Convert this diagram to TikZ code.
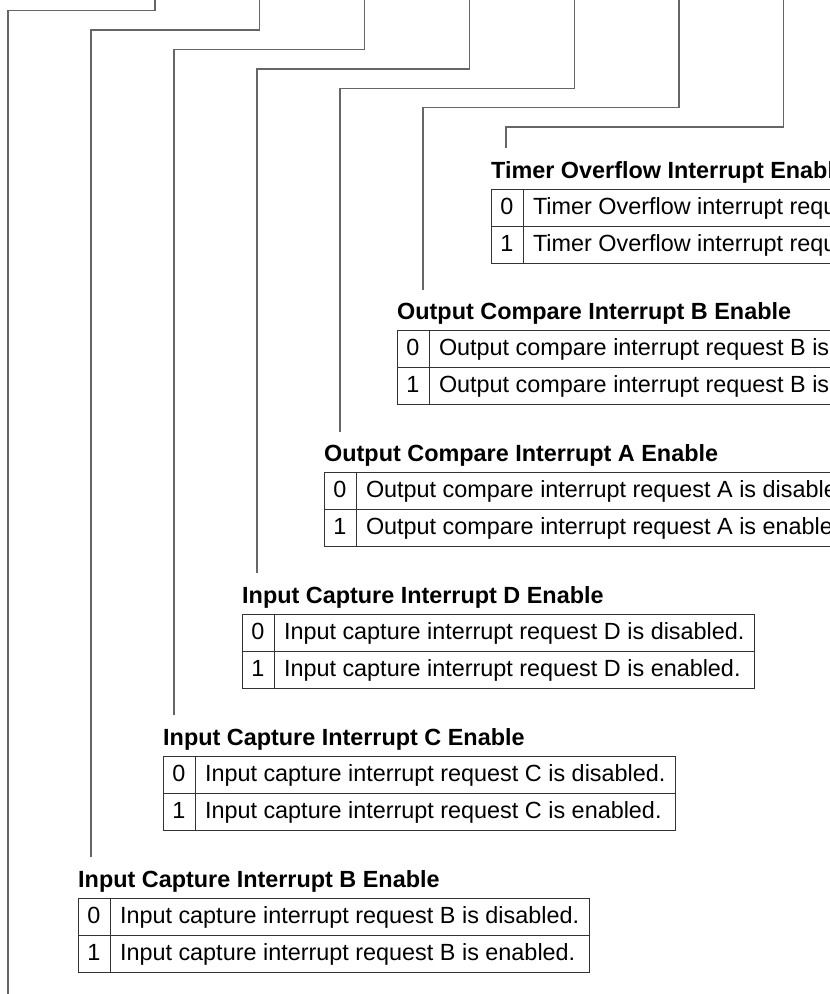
\documentclass[tikz,border=0pt]{standalone}
\usepackage{fontspec}
\setmainfont{Liberation Sans}
\usetikzlibrary{positioning}

\newcommand\regfont{\fontsize{23.4}{28}\selectfont}

\tikzset{
  lead/.style={draw=black!60, line width=1.3pt},
  frame/.style={draw=black!80, line width=1pt},
  regtitle/.style={anchor=base west, inner sep=0pt, font=\bfseries\regfont},
  bitcell/.style={frame, outer sep=0pt, inner sep=0pt,
    minimum width=32pt, minimum height=37pt, text height=17pt, text depth=4pt, font=\regfont},
  desccell/.style={outer sep=0pt, inner xsep=10pt, inner ysep=0pt,
    minimum height=37pt, text height=17pt, text depth=4pt, font=\regfont}
}

\begin{document}
\begin{tikzpicture}[x=1pt,y=-1pt]
  \useasboundingbox (0,0) rectangle (830,994);
  \clip (0,0) rectangle (830,994);

  % bit positions of the register (above the picture)
  \foreach \k in {0,...,6}
    \coordinate (bit\k) at ({155+104.8*\k},-2);
  \coordinate (tip0) at (8,1000);

  % one description block per enable bit
  \foreach \k/\tx/\ttl/\what in {
      6/491/Timer Overflow Interrupt Enable/Timer Overflow interrupt request,
      5/397/Output Compare Interrupt B Enable/Output compare interrupt request B,
      4/324/Output Compare Interrupt A Enable/Output compare interrupt request A,
      3/242/Input Capture Interrupt D Enable/Input capture interrupt request D,
      2/163/Input Capture Interrupt C Enable/Input capture interrupt request C,
      1/78/Input Capture Interrupt B Enable/Input capture interrupt request B}{
    \pgfmathsetmacro\ty{189+141.8*(6-\k)}
    \node[regtitle] (ttl\k) at (\tx,\ty-11) {\ttl};
    \node[bitcell, anchor=north west] (zero\k) at (\tx,\ty) {0};
    \node[desccell, frame, right=0pt of zero\k] (zerod\k) {\what\ is disabled.};
    \node[bitcell, below=0pt of zero\k] (one\k) {1};
    \node[desccell, right=0pt of one\k] (oned\k) {\what\ is enabled.};
    \draw[frame] (one\k.north east) rectangle (zerod\k.east |- one\k.south);
    \coordinate (tip\k) at ({8+83*\k},\ty-41);
  }

  % leader lines from the bits down to their blocks
  \foreach \k in {0,...,6}
    \draw[lead] (bit\k) |- ({8+83*\k},{10.7+19.4*\k}) -- (tip\k);
\end{tikzpicture}
\end{document}
